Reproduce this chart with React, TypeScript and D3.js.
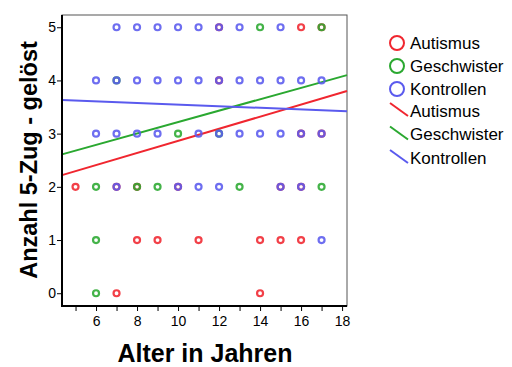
import React, { useEffect, useRef } from 'react'
import * as d3 from 'd3'

// age (years), number of 5-Zug solved
const autismus: [number, number][] = [
  [12, 5], [16, 5], [17, 5], [12, 4], [16, 3], [17, 3],
  [5, 2], [7, 2], [8, 2], [10, 2], [15, 2], [16, 2],
  [8, 1], [9, 1], [11, 1], [14, 1], [15, 1], [16, 1],
  [7, 0], [14, 0],
]
const geschwister: [number, number][] = [
  [14, 5], [17, 5], [7, 4], [10, 3], [12, 3],
  [6, 2], [8, 2], [9, 2], [13, 2], [17, 2],
  [6, 1], [6, 0],
]
const kontrollen: [number, number][] = [
  [7, 5], [8, 5], [9, 5], [10, 5], [11, 5], [12, 5], [13, 5], [15, 5],
  [6, 4], [7, 4], [8, 4], [9, 4], [10, 4], [11, 4], [12, 4], [13, 4], [14, 4], [15, 4], [16, 4], [17, 4],
  [6, 3], [7, 3], [8, 3], [9, 3], [11, 3], [12, 3], [13, 3], [14, 3], [15, 3], [16, 3], [17, 3],
  [7, 2], [10, 2], [11, 2], [12, 2], [15, 2], [16, 2],
  [17, 1],
]

const groups = ['Autismus', 'Geschwister', 'Kontrollen']
const colors = ['#f0262f', '#2aa830', '#5a5aee']
// linear fit: [intercept, slope]
const fits: [number, number][] = [[1.727, 0.1137], [2.145, 0.1072], [3.696, -0.0151]]

const xTicks = [5, 6, 7, 8, 9, 10, 11, 12, 13, 14, 15, 16, 17, 18]
const yTicks = [0, 1, 2, 3, 4, 5]

export default function App() {
  const ref = useRef<SVGSVGElement>(null)

  useEffect(() => {
    document.body.style.margin = '0'
    const svg = d3.select(ref.current)
    svg.selectAll('*').remove()

    const left = 62, right = 347, top = 15, bottom = 306
    const x = d3.scaleLinear().domain([4.34, 18.24]).range([left, right])
    const y = d3.scaleLinear().domain([-0.24, 5.23]).range([bottom, top])
    const font = '"Liberation Sans", Arial, sans-serif'

    svg.append('rect')
      .attr('x', 0).attr('y', 0).attr('width', 512).attr('height', 367)
      .attr('fill', '#fff')

    // frame
    svg.append('rect')
      .attr('x', left).attr('y', top).attr('width', right - left).attr('height', bottom - top)
      .attr('fill', 'none').attr('stroke', '#555').attr('stroke-width', 1)

    // regression lines
    fits.forEach((f, i) => {
      const [x0, x1] = x.domain()
      svg.append('line')
        .attr('x1', x(x0)).attr('y1', y(f[0] + f[1] * x0))
        .attr('x2', x(x1)).attr('y2', y(f[0] + f[1] * x1))
        .attr('stroke', colors[i]).attr('stroke-width', 2)
    })

    // points
    ;[autismus, geschwister, kontrollen].forEach((data, i) => {
      svg.append('g').selectAll('circle')
        .data(data)
        .enter().append('circle')
        .attr('cx', d => x(d[0]))
        .attr('cy', d => y(d[1]))
        .attr('r', 3)
        .attr('fill', 'none')
        .attr('stroke', colors[i])
        .attr('stroke-opacity', 0.88)
        .attr('stroke-width', 2.2)
    })

    // axes
    const xAxis = svg.append('g')
      .attr('transform', `translate(0,${bottom})`)
      .call(d3.axisBottom(x).tickValues(xTicks).tickSize(5)
        .tickFormat(d => (+d % 2 === 0 ? String(d) : '')))
    const yAxis = svg.append('g')
      .attr('transform', `translate(${left},0)`)
      .call(d3.axisLeft(y).tickValues(yTicks).tickSize(5).tickFormat(d3.format('d')))
    ;[xAxis, yAxis].forEach(a => {
      a.select('.domain').remove()
      a.selectAll('line').attr('stroke', '#000')
      a.selectAll('text').attr('font-family', font).attr('font-size', 14).attr('fill', '#000')
    })
    xAxis.selectAll('text').attr('dy', '0.85em')
    yAxis.selectAll('text').attr('x', -6)
    svg.append('line').attr('x1', left).attr('x2', left).attr('y1', top).attr('y2', bottom + 1)
      .attr('stroke', '#000').attr('stroke-width', 2)
    svg.append('line').attr('x1', left - 1).attr('x2', right).attr('y1', bottom).attr('y2', bottom)
      .attr('stroke', '#000').attr('stroke-width', 2)

    // titles
    svg.append('text')
      .attr('x', 205).attr('y', 362)
      .attr('text-anchor', 'middle')
      .attr('font-family', font).attr('font-weight', 'bold').attr('font-size', 25)
      .text('Alter in Jahren')
    svg.append('text')
      .attr('transform', `translate(37,160) rotate(-90)`)
      .attr('text-anchor', 'middle')
      .attr('font-family', font).attr('font-weight', 'bold').attr('font-size', 23.5)
      .text('Anzahl 5-Zug - gelöst')

    // legend
    const lg = svg.append('g')
    groups.forEach((g, i) => {
      const cy = 43 + i * 23
      lg.append('circle').attr('cx', 397).attr('cy', cy).attr('r', 7)
        .attr('fill', 'none').attr('stroke', colors[i]).attr('stroke-width', 2)
      lg.append('text').attr('x', 410).attr('y', cy).attr('dy', '0.35em')
        .attr('font-family', font).attr('font-size', 17).text(g)
    })
    groups.forEach((g, i) => {
      const cy = 111 + i * 23.5
      lg.append('line').attr('x1', 390).attr('y1', cy - 8).attr('x2', 408).attr('y2', cy + 5)
        .attr('stroke', colors[i]).attr('stroke-width', 2)
      lg.append('text').attr('x', 410).attr('y', cy).attr('dy', '0.35em')
        .attr('font-family', font).attr('font-size', 17).text(g)
    })
  }, [])

  return <svg ref={ref} width={512} height={367} style={{ display: 'block' }} />
}
